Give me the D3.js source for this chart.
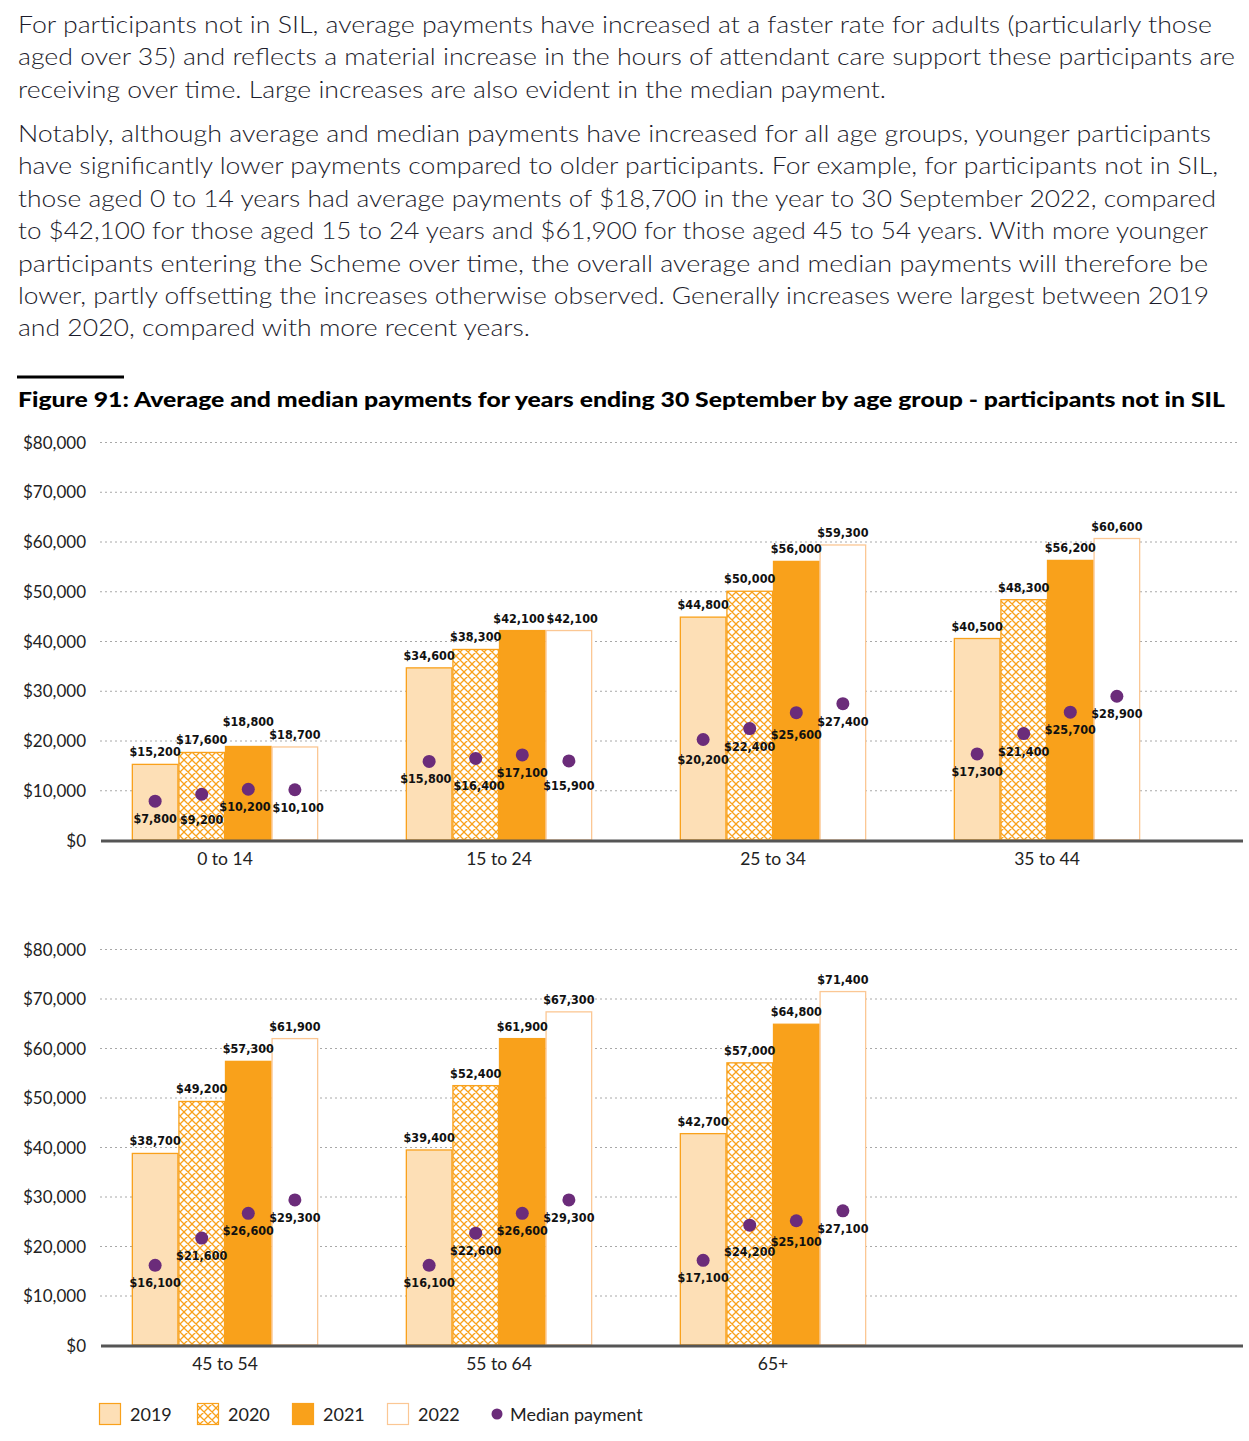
<!DOCTYPE html>
<html>
<head>
<meta charset="utf-8">
<script src="https://cdn.jsdelivr.net/npm/d3@7/dist/d3.min.js"></script>
<style>
  body { margin: 0; background: #fff; }
  svg { display: block; }
  .para { font-family: Lato, "Noto Sans", sans-serif; font-size: 23px; font-weight: 300; fill: #1c1c2c; }
  .title { font-family: Lato, "Noto Sans", sans-serif; font-size: 20px; font-weight: 900; fill: #000; }
  .tick text { font-family: Lato, "Noto Sans", sans-serif; font-size: 17px; fill: #222; }
  .cat { font-family: Lato, "Noto Sans", sans-serif; font-size: 17.5px; fill: #222; }
  .val { font-family: "DejaVu Sans Condensed", "DejaVu Sans", sans-serif; font-size: 12.5px; font-weight: bold; fill: #111; }
  .leg { font-family: Lato, "Noto Sans", sans-serif; font-size: 18px; fill: #222; }
</style>
</head>
<body>
<div id="chart"></div>
<script>
'use strict';

// intro text, one entry per printed line
var para1 = [
  "For participants not in SIL, average payments have increased at a faster rate for adults (particularly those",
  "aged over 35) and reflects a material increase in the hours of attendant care support these participants are",
  "receiving over time. Large increases are also evident in the median payment."
];
var para2 = [
  "Notably, although average and median payments have increased for all age groups, younger participants",
  "have significantly lower payments compared to older participants. For example, for participants not in SIL,",
  "those aged 0 to 14 years had average payments of $18,700 in the year to 30 September 2022, compared",
  "to $42,100 for those aged 15 to 24 years and $61,900 for those aged 45 to 54 years. With more younger",
  "participants entering the Scheme over time, the overall average and median payments will therefore be",
  "lower, partly offsetting the increases otherwise observed. Generally increases were largest between 2019",
  "and 2020, compared with more recent years."
];
var para1Widths = [1194, 1217, 868];
var para2Widths = [1193, 1200, 1198, 1190, 1190, 1191, 512];

var title = "Figure 91: Average and median payments for years ending 30 September by age group - participants not in SIL";

var years = ["2019", "2020", "2021", "2022"];
var yTicks = [0, 10000, 20000, 30000, 40000, 50000, 60000, 70000, 80000];

// top panel
var groupsA = ["0 to 14", "15 to 24", "25 to 34", "35 to 44"];
var avgA = {
  "2019": [15200, 34600, 44800, 40500],
  "2020": [17600, 38300, 50000, 48300],
  "2021": [18800, 42100, 56000, 56200],
  "2022": [18700, 42100, 59300, 60600]
};
var medA = {
  "2019": [7800, 15800, 20200, 17300],
  "2020": [9200, 16400, 22400, 21400],
  "2021": [10200, 17100, 25600, 25700],
  "2022": [10100, 15900, 27400, 28900]
};

// bottom panel
var groupsB = ["45 to 54", "55 to 64", "65+"];
var avgB = {
  "2019": [38700, 39400, 42700],
  "2020": [49200, 52400, 57000],
  "2021": [57300, 61900, 64800],
  "2022": [61900, 67300, 71400]
};
var medB = {
  "2019": [16100, 16100, 17100],
  "2020": [21600, 22600, 24200],
  "2021": [26600, 26600, 25100],
  "2022": [29300, 29300, 27100]
};

var W = 1249, H = 1441;
var orange = "#F9A11B";
var purple = "#6B2C7A";
var fills = { "2019": "#FDDFB6", "2020": "url(#hatch)", "2021": orange, "2022": "#fff" };
var strokes = { "2019": orange, "2020": orange, "2021": orange, "2022": "#FBC794" };

var svg = d3.select("#chart").append("svg")
    .attr("width", W)
    .attr("height", H);

var defs = svg.append("defs");
var pat = defs.append("pattern")
    .attr("id", "hatch")
    .attr("patternUnits", "userSpaceOnUse")
    .attr("width", 8)
    .attr("height", 8);
pat.append("rect").attr("width", 8).attr("height", 8).attr("fill", "#fff");
pat.append("path")
    .attr("d", "M0,0 L8,8 M8,0 L0,8 M-1,7 L1,9 M7,-1 L9,1 M-1,1 L1,-1 M7,9 L9,7")
    .attr("stroke", orange)
    .attr("stroke-width", 1.3);

// text block
function writeLines(lines, widths, y0) {
  svg.append("g").selectAll("text")
    .data(lines)
    .join("text")
      .attr("class", "para")
      .attr("x", 18)
      .attr("y", function(d, i) { return y0 + i * 32.4; })
      .attr("textLength", function(d, i) { return widths[i]; })
      .attr("lengthAdjust", "spacingAndGlyphs")
      .text(function(d) { return d; });
}
writeLines(para1, para1Widths, 33);
writeLines(para2, para2Widths, 142);

svg.append("rect")
    .attr("x", 17).attr("y", 375.5)
    .attr("width", 107).attr("height", 3)
    .attr("fill", "#000");

svg.append("text")
    .attr("class", "title")
    .attr("x", 18).attr("y", 407)
    .attr("textLength", 1207)
    .attr("lengthAdjust", "spacingAndGlyphs")
    .text(title);

var fmt = d3.format("$,");
var slots = d3.range(4);   // both panels share the same 4-slot spacing
var LH = 10;               // label cap height used for overlap tests

// nudge neighbouring labels of one group apart, roughly like the original
// chart does: same height -> spread sideways, otherwise push the outer one out
function declutter(sel, dir) {
  var items = [];
  sel.each(function(d) {
    items.push({ node: this, d: d, x: +this.getAttribute("x"), y: +this.getAttribute("y"),
                 w: this.getComputedTextLength() });
  });
  for (var i = 1; i < items.length; i++) {
    var a = items[i - 1], b = items[i];
    if (a.d.gi != b.d.gi) continue;
    var hov = (a.x + a.w / 2 + 2) - (b.x - b.w / 2);
    var dy = Math.abs(a.y - b.y);
    if (hov <= 0 || dy >= LH + 1) continue;
    if (dy < 3.2) {
      a.x -= hov / 2;
      b.x += hov / 2;
    } else {
      // dir -1: labels above bars (move the higher one up); +1: below dots
      var outer = (dir < 0) ? (a.y < b.y ? a : b) : (a.y > b.y ? a : b);
      var inner = outer === a ? b : a;
      outer.y = inner.y + dir * (LH + 3);
    }
  }
  items.forEach(function(it) {
    d3.select(it.node).attr("x", it.x).attr("y", it.y);
  });
}

function drawPanel(groups, avg, med, yTop, yBase) {
  var x0 = d3.scaleBand().domain(slots).range([88, 1184]).paddingInner(0.32).paddingOuter(0.16);
  var x1 = d3.scaleBand().domain(years).range([0, x0.bandwidth()]);
  var y = d3.scaleLinear().domain([0, 80000]).range([yBase, yTop]);

  var g = svg.append("g");

  // grid + tick labels
  var ax = g.append("g")
      .attr("transform", "translate(100,0)")
      .call(d3.axisLeft(y).tickValues(yTicks).tickFormat(fmt).tickSize(0).tickPadding(14));
  ax.select(".domain").remove();
  ax.selectAll(".tick text").attr("dy", "0.36em");

  g.append("g").selectAll("line")
    .data(yTicks.slice(1))
    .join("line")
      .attr("x1", 100).attr("x2", 1240)
      .attr("y1", function(d) { return y(d) + 0.5; })
      .attr("y2", function(d) { return y(d) + 0.5; })
      .attr("stroke", "#a8a8a8")
      .attr("stroke-width", 1)
      .attr("stroke-dasharray", "2,3");

  var rows = [];
  groups.forEach(function(gname, gi) {
    years.forEach(function(yr) {
      rows.push({ gi: gi, year: yr, avg: avg[yr][gi], med: med[yr][gi] });
    });
  });

  var bx = function(d) { return x0(d.gi) + x1(d.year); };
  var cx = function(d) { return bx(d) + x1.bandwidth() / 2; };

  g.append("g").selectAll("rect")
    .data(rows)
    .join("rect")
      .attr("x", function(d) { return bx(d) + 0.5; })
      .attr("y", function(d) { return y(d.avg); })
      .attr("width", x1.bandwidth() - 1)
      .attr("height", function(d) { return yBase - y(d.avg); })
      .attr("fill", function(d) { return fills[d.year]; })
      .attr("stroke", function(d) { return strokes[d.year]; })
      .attr("stroke-width", 1.3);

  var avgLabels = g.append("g").selectAll("text")
    .data(rows)
    .join("text")
      .attr("class", "val")
      .attr("text-anchor", "middle")
      .attr("x", cx)
      .attr("y", function(d) { return y(d.avg) - 8; })
      .text(function(d) { return fmt(d.avg); });
  declutter(avgLabels, -1);

  g.append("g").selectAll("circle")
    .data(rows)
    .join("circle")
      .attr("cx", cx)
      .attr("cy", function(d) { return y(d.med); })
      .attr("r", 6.5)
      .attr("fill", purple);

  var medLabels = g.append("g").selectAll("text")
    .data(rows)
    .join("text")
      .attr("class", "val")
      .attr("text-anchor", "middle")
      .attr("x", cx)
      .attr("y", function(d) { return y(d.med) + 22; })
      .text(function(d) { return fmt(d.med); });
  declutter(medLabels, 1);

  // base axis
  g.append("line")
      .attr("x1", 101).attr("x2", 1243)
      .attr("y1", yBase + 1).attr("y2", yBase + 1)
      .attr("stroke", "#555")
      .attr("stroke-width", 3);

  g.append("g").selectAll("text")
    .data(groups)
    .join("text")
      .attr("class", "cat")
      .attr("text-anchor", "middle")
      .attr("x", function(d, i) { return x0(i) + x0.bandwidth() / 2; })
      .attr("y", yBase + 25)
      .text(function(d) { return d; });
}

drawPanel(groupsA, avgA, medA, 442, 840);
drawPanel(groupsB, avgB, medB, 949, 1345);

// legend
var legX = [99, 197, 292, 387];
var leg = svg.append("g");
years.forEach(function(yr, i) {
  leg.append("rect")
      .attr("x", legX[i] + 0.5).attr("y", 1403.5)
      .attr("width", 21).attr("height", 21)
      .attr("fill", fills[yr])
      .attr("stroke", strokes[yr])
      .attr("stroke-width", 1.2);
  leg.append("text")
      .attr("class", "leg")
      .attr("x", legX[i] + 31).attr("y", 1421)
      .text(yr);
});
leg.append("circle")
    .attr("cx", 497).attr("cy", 1414)
    .attr("r", 5.5)
    .attr("fill", purple);
leg.append("text")
    .attr("class", "leg")
    .attr("x", 510).attr("y", 1421)
    .text("Median payment");
</script>
</body>
</html>
